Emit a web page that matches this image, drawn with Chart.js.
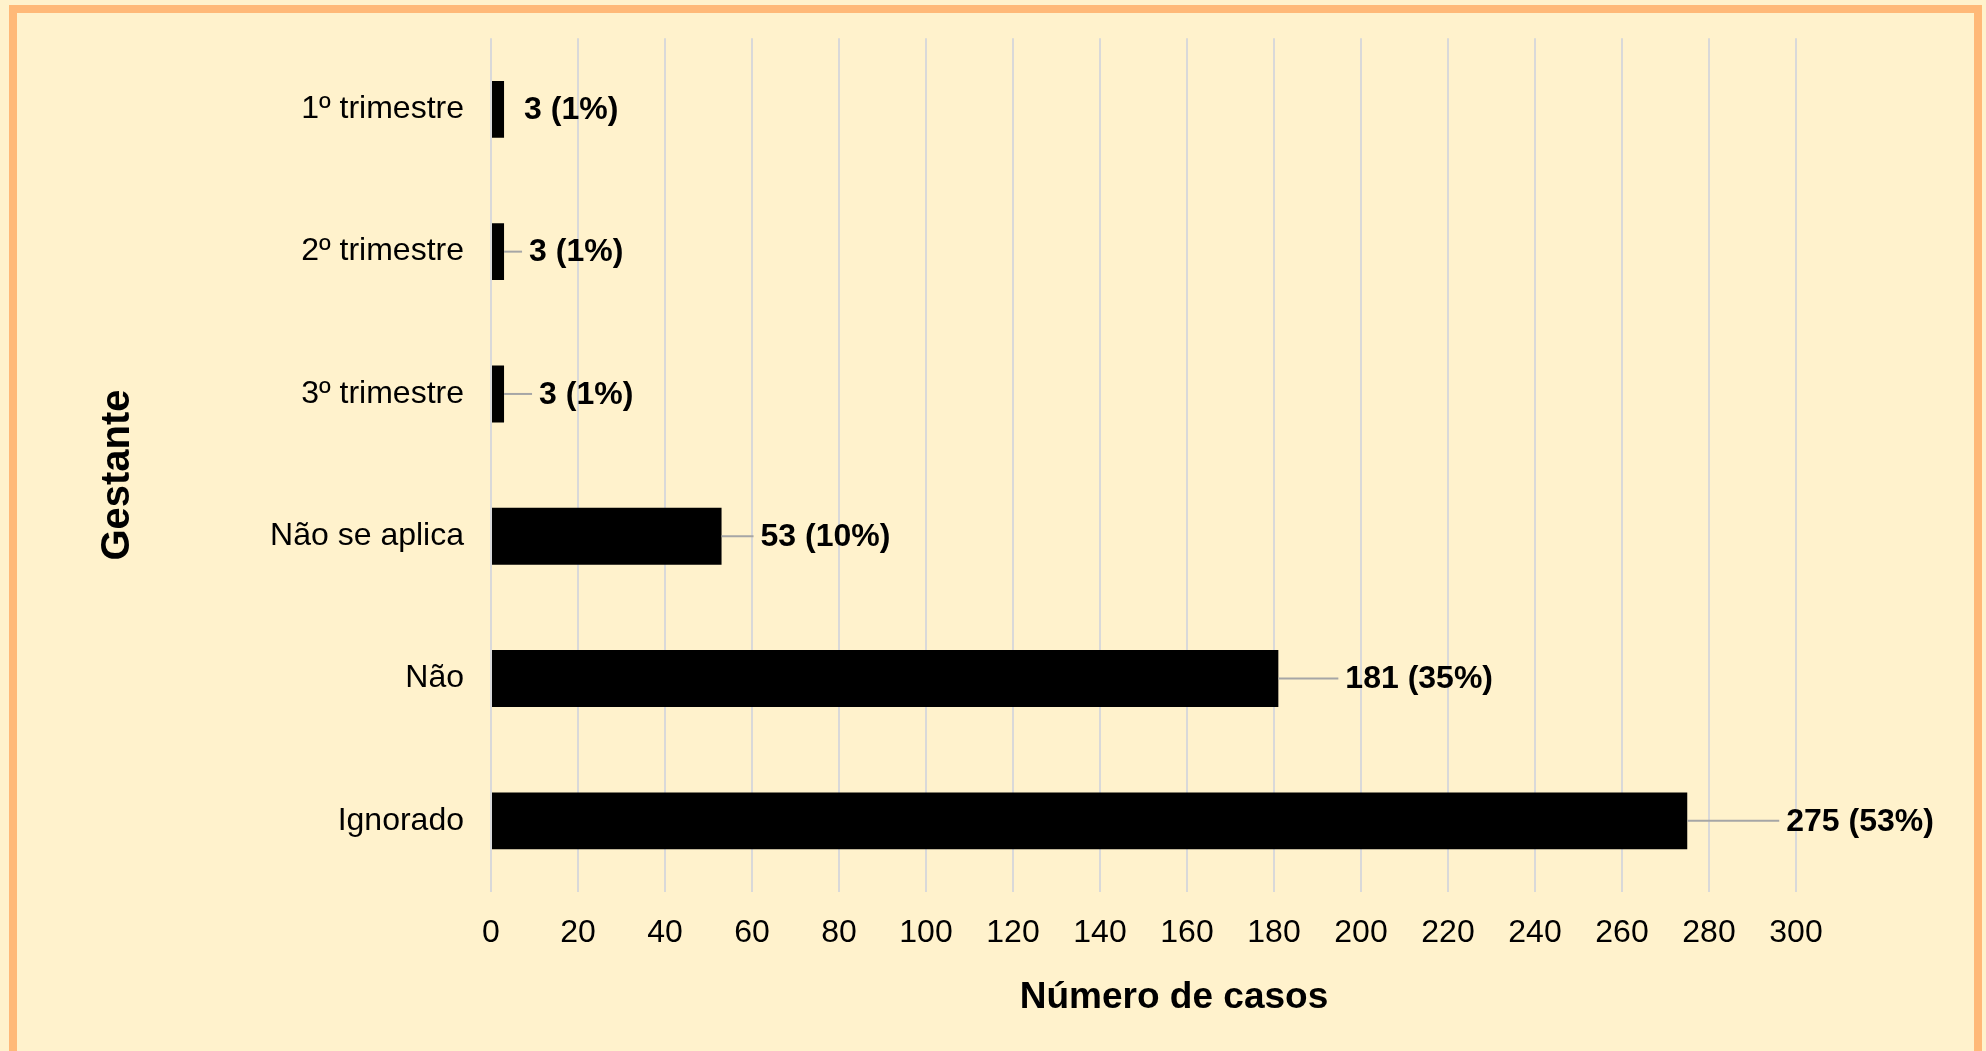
<!DOCTYPE html>
<html>
<head>
  <title>Gestante</title>
  <script src="https://cdn.jsdelivr.net/npm/chart.js"></script>
<style>
body {
  margin: 0;
  background: #FFF2CC;
  overflow: hidden;
}

.frame {
  position: absolute;
  left: 9px;
  top: 5px;
  width: 1973px;
  height: 1100px;
  border: 8px solid #FFB978;
  box-sizing: border-box;
}

#chartGestante {
  position: absolute;
  left: 0;
  top: 0;
}
</style>
</head>
<body>

  <div class="frame"></div>
  <canvas id="chartGestante" width="1986" height="1051"></canvas>

  <script>
    const categorias = ['1º trimestre', '2º trimestre', '3º trimestre', 'Não se aplica', 'Não', 'Ignorado'];
    const casos = [3, 3, 3, 53, 181, 275];
    const percentuais = [1, 1, 1, 10, 35, 53];

    const eixoMin = 0;
    const eixoMax = 300;
    const eixoPasso = 20;

    // labels "n (p%)" with grey leader lines, like the Excel original
    const rotulosPlugin = {
      id: 'rotulos',
      afterDatasetsDraw(chart, args, opts) {
        const ctx = chart.ctx;
        const meta = chart.getDatasetMeta(0);
        ctx.save();
        ctx.font = 'bold 32px "Liberation Sans", Arial, sans-serif';
        ctx.textAlign = 'left';
        ctx.textBaseline = 'middle';
        meta.data.forEach((bar, i) => {
          const dx = opts.offsets[i];
          const xText = bar.x + dx;
          if (dx > 22) {
            ctx.strokeStyle = '#A6A6A6';
            ctx.lineWidth = 2;
            ctx.beginPath();
            ctx.moveTo(bar.x, bar.y);
            ctx.lineTo(xText - 7, bar.y);
            ctx.stroke();
          }
          ctx.fillStyle = '#000000';
          ctx.fillText(casos[i] + ' (' + percentuais[i] + '%)', xText, bar.y + 1);
        });
        ctx.restore();
      }
    };

    // axis titles
    const titulosPlugin = {
      id: 'titulos',
      afterDraw(chart) {
        const ctx = chart.ctx;
        ctx.save();
        ctx.fillStyle = '#000000';
        ctx.textAlign = 'center';
        ctx.textBaseline = 'middle';
        ctx.font = 'bold 37px "Liberation Sans", Arial, sans-serif';
        ctx.fillText('Número de casos', 1174, 998);
        ctx.translate(118, 475);
        ctx.rotate(-Math.PI / 2);
        ctx.font = 'bold 40px "Liberation Sans", Arial, sans-serif';
        ctx.fillText('Gestante', 0, 0);
        ctx.restore();
      }
    };

    const ctx = document.getElementById('chartGestante').getContext('2d');
    const chartGestante = new Chart(ctx, {
      type: 'bar',
      data: {
        labels: categorias,
        datasets: [{
          label: 'Número de casos',
          data: casos,
          backgroundColor: '#000000',
          borderWidth: 0,
          barPercentage: 0.4,
          categoryPercentage: 1
        }]
      },
      options: {
        indexAxis: 'y',
        responsive: false,
        animation: false,
        layout: {
          padding: { top: 29, right: 190, left: 0, bottom: 0 }
        },
        plugins: {
          legend: { display: false },
          tooltip: { enabled: false },
          rotulos: { offsets: [20, 25, 35, 39, 67, 99] }
        },
        scales: {
          x: {
            min: eixoMin,
            max: eixoMax,
            ticks: {
              stepSize: eixoPasso,
              color: '#000000',
              padding: 22,
              font: { family: '"Liberation Sans", Arial, sans-serif', size: 32 }
            },
            grid: {
              color: '#D9D9D9',
              lineWidth: 2,
              drawTicks: false
            },
            border: { display: false },
            afterFit(scale) { scale.height = 159; }
          },
          y: {
            ticks: {
              color: '#000000',
              padding: 19,
              font: { family: '"Liberation Sans", Arial, sans-serif', size: 32 }
            },
            grid: { display: false },
            border: { display: false },
            afterFit(scale) { scale.width = 491; }
          }
        }
      },
      plugins: [rotulosPlugin, titulosPlugin]
    });
  </script>

</body>
</html>
